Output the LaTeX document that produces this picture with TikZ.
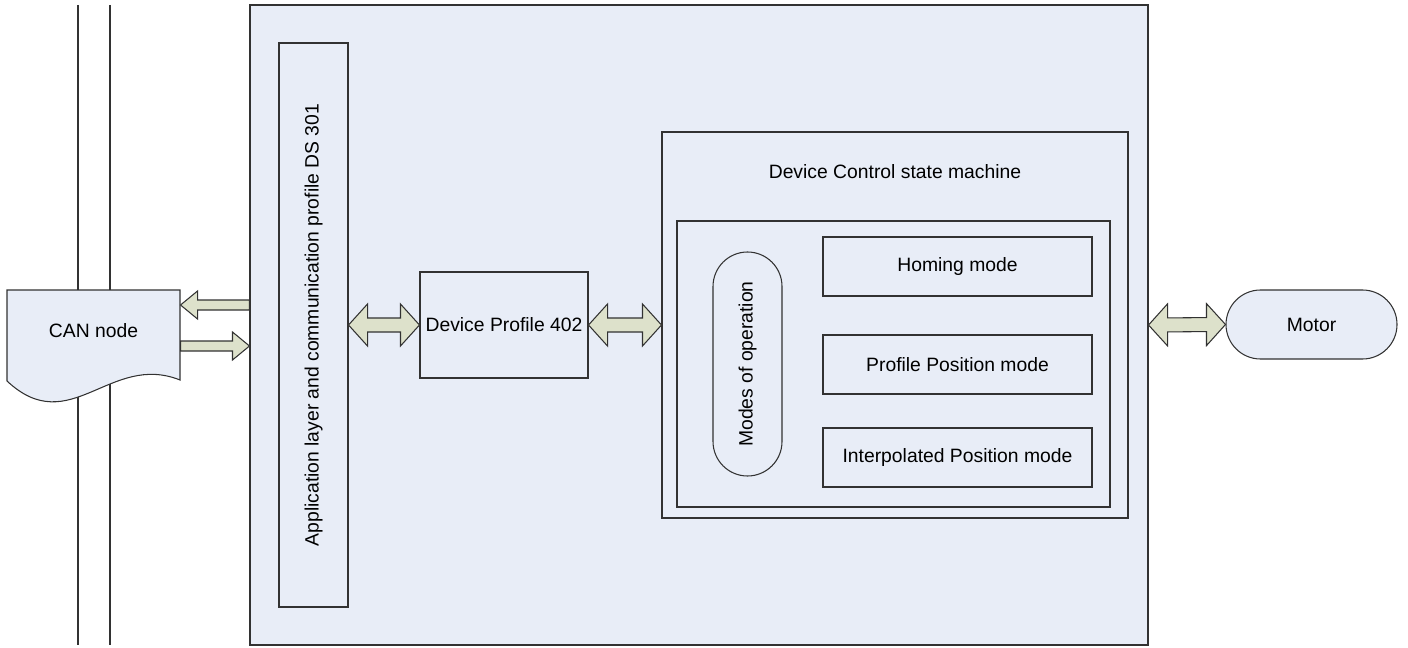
\documentclass[tikz,border=0pt]{standalone}
\usepackage{fontspec}
\setmainfont{Liberation Sans}
\usepackage{graphicx}
\usepackage{tikz}
\usetikzlibrary{
calc,
shapes.misc,
}
\definecolor{boxfill}{RGB}{232,237,247}
\definecolor{arrowfill}{RGB}{221,225,203}
\definecolor{linegray}{RGB}{50,50,50}
\newcommand{\pxu}{0.02cm}
\tikzset{every picture/.style={line width=0.6pt}}
\tikzset{box/.style = {shape=rectangle,draw=linegray,fill=boxfill,inner sep=0pt,font=\fontsize{11}{13}\selectfont}}
\tikzset{pill/.style = {box,shape=rounded rectangle}}
\tikzset{caption/.style = {inner sep=0pt,font=\fontsize{11}{13}\selectfont}}
\tikzset{dblarrow/.style = {draw=linegray,fill=arrowfill,line join=miter,
  to path={(\tikztostart)
  -- ($(\tikztostart)!0.38cm!(\tikztotarget)+(0,-21)$)
  -- ($(\tikztostart)!0.38cm!(\tikztotarget)+(0,-7)$)
  -- ($(\tikztotarget)!0.38cm!(\tikztostart)+(0,-7)$)
  -- ($(\tikztotarget)!0.38cm!(\tikztostart)+(0,-21)$)
  -- (\tikztotarget)
  -- ($(\tikztotarget)!0.38cm!(\tikztostart)+(0,21)$)
  -- ($(\tikztotarget)!0.38cm!(\tikztostart)+(0,7)$)
  -- ($(\tikztostart)!0.38cm!(\tikztotarget)+(0,7)$)
  -- ($(\tikztostart)!0.38cm!(\tikztotarget)+(0,21)$)
  -- cycle}}}
\tikzset{onearrow/.style = {draw=linegray,fill=arrowfill,line join=miter,
  to path={($(\tikztostart)+(0,-5)$)
  -- ($(\tikztotarget)!0.34cm!(\tikztostart)+(0,-5)$)
  -- ($(\tikztotarget)!0.34cm!(\tikztostart)+(0,-14)$)
  -- (\tikztotarget)
  -- ($(\tikztotarget)!0.34cm!(\tikztostart)+(0,14)$)
  -- ($(\tikztotarget)!0.34cm!(\tikztostart)+(0,5)$)
  -- ($(\tikztostart)+(0,5)$)
  -- cycle}}}

\begin{document}
\begin{tikzpicture}[x=0.02cm,y=-0.02cm]
\useasboundingbox (0,0) rectangle (1408,648);
% bus lines and CAN node
\draw[linegray] (78,5) -- (78,645);
\draw[linegray] (110,5) -- (110,645);
\filldraw[draw=linegray,fill=boxfill] (7,290) -- (180,290) -- (180,380)
  .. controls (110,352) and (70,440) .. (7,381) -- cycle;
\node[caption,minimum width=173*\pxu,minimum height=82*\pxu] (can) at (93.5,331) {CAN node};
%
\node[box,minimum width=898*\pxu,minimum height=640*\pxu] (outer) at (699,325) {};
\node[box,minimum width=69*\pxu,minimum height=564*\pxu] (app) at (313.5,325)
  {\rotatebox{90}{Application layer and communication profile DS 301}};
\node[box,minimum width=168*\pxu,minimum height=106*\pxu] (dp) at (504,325) {Device Profile 402};
\node[box,minimum width=466*\pxu,minimum height=386*\pxu] (dcsm) at (895,325) {};
\node[caption] (dcsmtitle) at (895,172) {Device Control state machine};
\node[box,minimum width=433*\pxu,minimum height=286*\pxu] (modes) at (893.5,364) {};
\node[pill,rotate=90,minimum width=224*\pxu,minimum height=69*\pxu] (mop) at (747.5,364) {Modes of operation};
\node[box,minimum width=269*\pxu,minimum height=59*\pxu] (homing) at (957.5,266.5) {Homing mode};
\node[box,minimum width=269*\pxu,minimum height=59*\pxu] (ppm) at (957.5,364.5) {Profile Position mode};
\node[box,minimum width=269*\pxu,minimum height=59*\pxu] (ipm) at (957.5,457.5) {Interpolated Position mode};
\node[pill,minimum width=171*\pxu,minimum height=69*\pxu] (motor) at (1311.5,324.5) {Motor};
%
\draw[onearrow] (outer.west |- 0,305) to (can.east |- 0,305);
\draw[onearrow] (can.east |- 0,346) to (outer.west |- 0,346);
\draw[dblarrow] (app.east) to (dp.west);
\draw[dblarrow] (dp.east) to (dcsm.west);
\draw[dblarrow] (outer.east) to (motor.west);
\end{tikzpicture}
\end{document}
